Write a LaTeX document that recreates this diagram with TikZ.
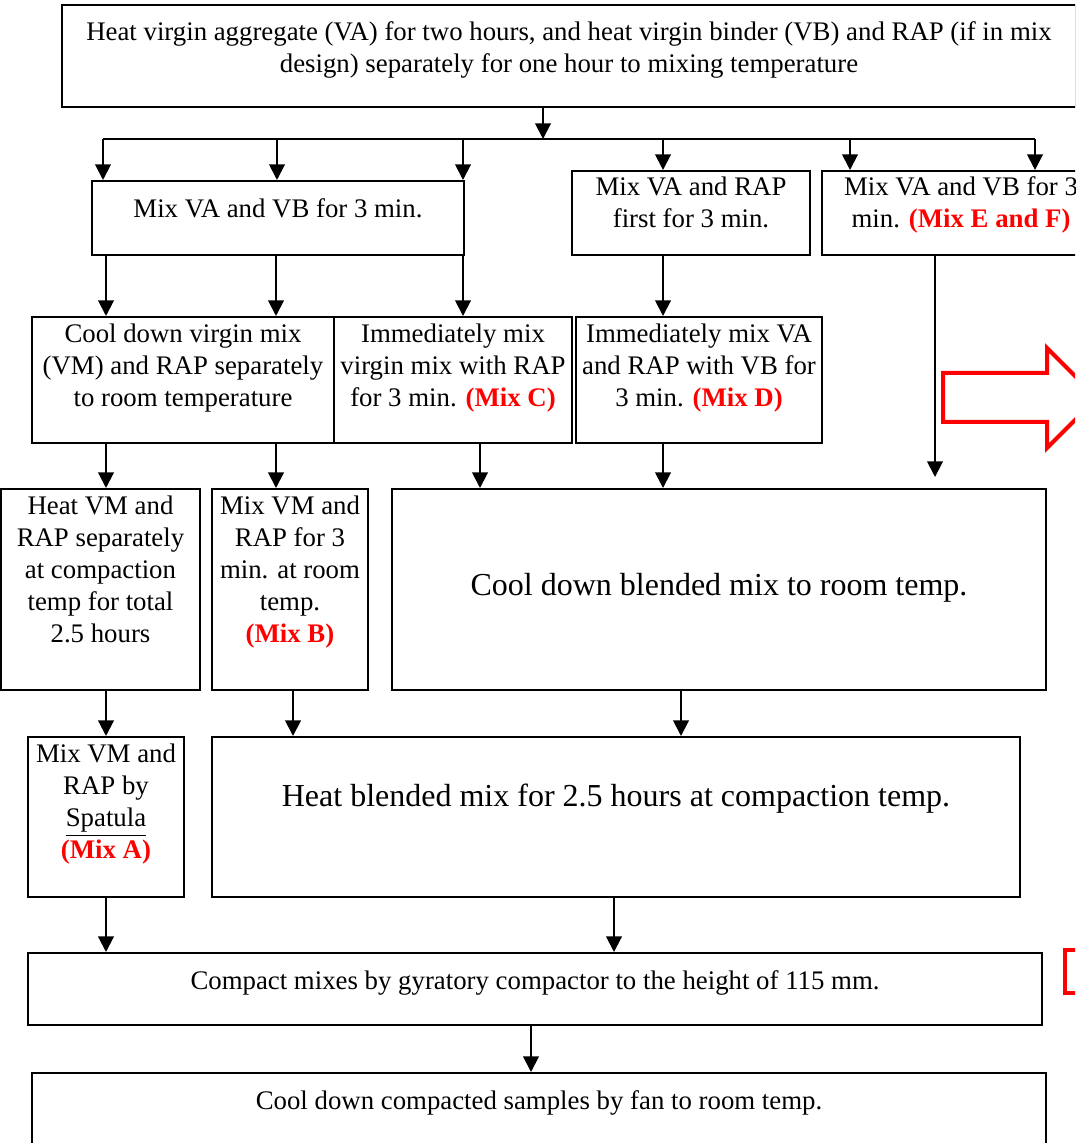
\documentclass[tikz,border=0pt]{standalone}
\usepackage{fontspec}
\setmainfont{Liberation Serif}
\usetikzlibrary{arrows.meta,positioning,fit}
\definecolor{mixred}{RGB}{255,0,0}
\newcommand{\mixtag}[1]{\textcolor{mixred}{\textbf{(#1)}}}
\tikzset{
  box/.style={draw, line width=1pt, inner sep=0pt},
  txt/.style={align=center, inner sep=0pt, font=\fontsize{13.4}{16}\selectfont},
  bigtxt/.style={align=center, inner sep=0pt, font=\fontsize{16}{19}\selectfont},
  arr/.style={line width=1pt, -{Triangle[length=7.8pt,width=7.8pt]}},
  redline/.style={draw=mixred, line width=2pt, line join=miter}
}
\begin{document}
\begin{tikzpicture}[x=0.5pt,y=-0.5pt]
\useasboundingbox (0,0) rectangle (1075,1143);
\clip (0,0) rectangle (1075,1143);
% boxes
\node[box, fit={(62,5) (1076,107)}] (heat) {};
\node[box, fit={(92,181) (464,255)}] (vavb) {};
\node[box, fit={(572,171) (810,255)}] (varap) {};
\node[box, fit={(822,171) (1100,255)}] (vavbef) {};
\node[box, fit={(32,317) (334,443)}] (cool1) {};
\node[box, fit={(334,317) (572,443)}] (mixc) {};
\node[box, fit={(576,317) (822,443)}] (mixd) {};
\node[box, fit={(1,489) (200,690)}] (heatvm) {};
\node[box, fit={(212,489) (368,690)}] (mixb) {};
\node[box, fit={(392,489) (1046,690)}] (cool2) {};
\node[box, fit={(28,737) (184,897)}] (mixa) {};
\node[box, fit={(212,737) (1020,897)}] (heat2) {};
\node[box, fit={(28,953) (1042,1025)}] (compact) {};
\node[box, fit={(32,1073) (1046,1170)}] (fan) {};
% texts
\node[txt, below=6.8pt of heat.north] (heat-t) {\strut Heat virgin aggregate (VA) for two hours, and heat virgin binder (VB) and RAP (if in mix\\design) separately for one hour to mixing temperature};
\node[txt, below=7.3pt of vavb.north] (vavb-t) {\strut Mix VA and VB for 3 min.};
\node[txt, below=1.3pt of varap.north] (varap-t) {\strut Mix VA and RAP\\first for 3 min.};
\node[txt, below=1.3pt of vavbef.north] (vavbef-t) {\strut Mix VA and VB for 3\\min. \mixtag{Mix E and F}};
\node[txt, below=1.8pt of cool1.north] (cool1-t) {\strut Cool down virgin mix\\(VM) and RAP separately\\to room temperature};
\node[txt, below=1.8pt of mixc.north] (mixc-t) {\strut Immediately mix\\virgin mix with RAP\\for 3 min. \mixtag{Mix C}};
\node[txt, below=1.8pt of mixd.north] (mixd-t) {\strut Immediately mix VA\\and RAP with VB for\\3 min. \mixtag{Mix D}};
\node[txt, below=1.8pt of heatvm.north] (heatvm-t) {\strut Heat VM and\\RAP separately\\at compaction\\temp for total\\2.5 hours};
\node[txt, below=1.8pt of mixb.north] (mixb-t) {\strut Mix VM and\\RAP for 3\\min. at room\\temp.\\\mixtag{Mix B}};
\node[bigtxt, below=40pt of cool2.north] (cool2-t) {\strut Cool down blended mix to room temp.};
\node[txt, below=1.8pt of mixa.north] (mixa-t) {\strut Mix VM and\\RAP by\\\underline{Spatula}\\\mixtag{Mix A}};
\node[bigtxt, below=21.5pt of heat2.north] (heat2-t) {\strut Heat blended mix for 2.5 hours at compaction temp.};
\node[txt, below=7.3pt of compact.north] (compact-t) {\strut Compact mixes by gyratory compactor to the height of 115 mm.};
\node[txt, below=7.3pt of fan.north] (fan-t) {\strut Cool down compacted samples by fan to room temp.};
% connectors
\coordinate (busL) at (103,139);
\coordinate (busR) at (1035,139);
\draw[arr] (543,0 |- heat.south) -- (543,0 |- busL);
\draw[line width=1pt] (busL) -- (busR);
\foreach \xx in {103,277,463} \draw[arr] (\xx,0 |- busL) -- (\xx,0 |- vavb.north);
\draw[arr] (663,0 |- busL) -- (663,0 |- varap.north);
\foreach \xx in {850,1035} \draw[arr] (\xx,0 |- busL) -- (\xx,0 |- vavbef.north);
\foreach \xx in {106,276} \draw[arr] (\xx,0 |- vavb.south) -- (\xx,0 |- cool1.north);
\draw[arr] (463,0 |- vavb.south) -- (463,0 |- mixc.north);
\draw[arr] (663,0 |- varap.south) -- (663,0 |- mixd.north);
\draw[arr, shorten >=5.5pt] (935,0 |- vavbef.south) -- (935,0 |- cool2.north);
\draw[arr] (106,0 |- cool1.south) -- (106,0 |- heatvm.north);
\draw[arr] (276,0 |- cool1.south) -- (276,0 |- mixb.north);
\draw[arr] (480,0 |- mixc.south) -- (480,0 |- cool2.north);
\draw[arr] (663,0 |- mixd.south) -- (663,0 |- cool2.north);
\draw[arr] (106,0 |- heatvm.south) -- (106,0 |- mixa.north);
\draw[arr] (293,0 |- mixb.south) -- (293,0 |- heat2.north);
\draw[arr] (681,0 |- cool2.south) -- (681,0 |- heat2.north);
\draw[arr] (106,0 |- mixa.south) -- (106,0 |- compact.north);
\draw[arr] (614,0 |- heat2.south) -- (614,0 |- compact.north);
\draw[arr] (531,0 |- compact.south) -- (531,0 |- fan.north);
% red marks at the right edge
\draw[redline] (943,373) -- (1047,373) -- (1047,348) -- (1097,398) -- (1047,448) -- (1047,422) -- (943,422) -- cycle;
\draw[redline] (1120,950) -- (1065,950) -- (1065,993) -- (1120,993);
\end{tikzpicture}
\end{document}
